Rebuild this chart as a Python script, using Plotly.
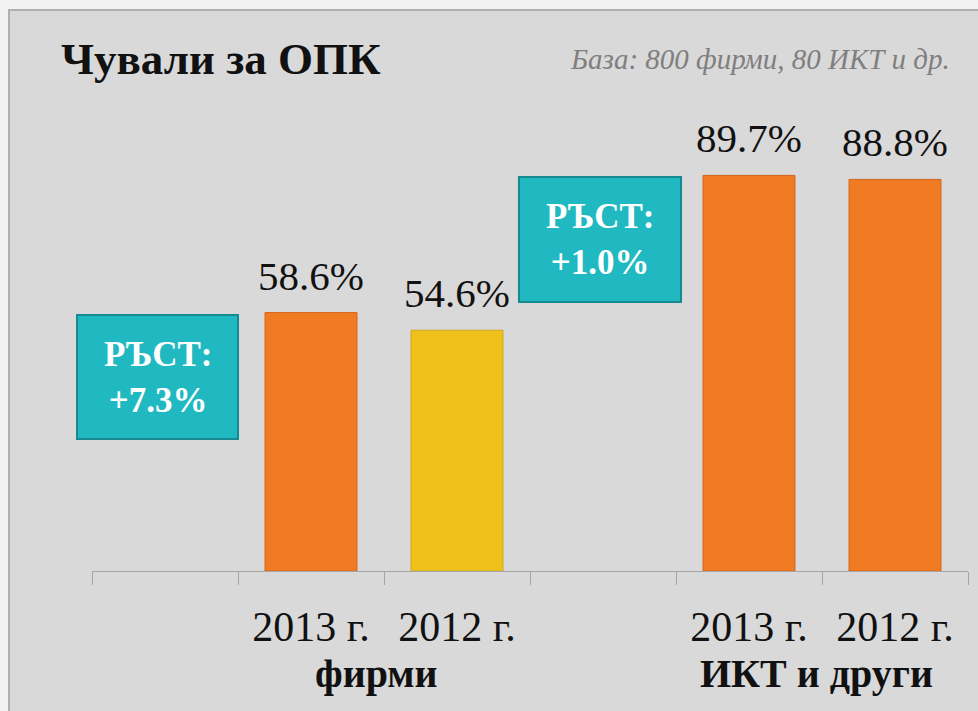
import plotly.graph_objects as go

# Chart data
positions = [1, 2, 4, 5]
years = ["2013 г.", "2012 г.", "2013 г.", "2012 г."]
values = [58.6, 54.6, 89.7, 88.8]
bar_colors = ["#F07B22", "#F0C11A", "#F07B22", "#F07B22"]
line_colors = ["#D4661A", "#D1A820", "#D4661A", "#D4661A"]
groups = ["фирми", "ИКТ и други"]
group_centers = [1.45, 4.46]
growth_labels = ["РЪСТ:<br>+7.3%", "РЪСТ:<br>+1.0%"]
boundaries = [-0.5, 0.5, 1.5, 2.5, 3.5, 4.5, 5.5]

SERIF = "Liberation Serif"

fig = go.Figure()
fig.add_trace(go.Bar(
    x=positions, y=values, width=0.63,
    marker=dict(color=bar_colors, line=dict(color=line_colors, width=1)),
    hoverinfo="skip",
))

# Value labels above the bars
for x, v in zip(positions, values):
    fig.add_annotation(x=x, y=v, xref="x", yref="y", text=f"{v:.1f}%",
                       showarrow=False, yanchor="bottom", yshift=12,
                       font=dict(family=SERIF, size=41, color="#111111"))

# Group labels below the year labels
for gx, g in zip(group_centers, groups):
    fig.add_annotation(x=gx, y=0, xref="x", yref="y", text=f"<b>{g}</b>",
                       showarrow=False, yanchor="top", yshift=-78,
                       font=dict(family=SERIF, size=40, color="#111111"))

# Growth boxes
boxes = [(-0.0171, 0.1667, 0.2993, 0.5805), (0.4874, 0.6724, 0.61, 0.8934)]
for (x0, x1, y0, y1), txt in zip(boxes, growth_labels):
    fig.add_shape(type="rect", xref="paper", yref="paper", x0=x0, x1=x1, y0=y0, y1=y1,
                  fillcolor="#20B9C1", line=dict(color="#168A90", width=2), layer="above")
    fig.add_annotation(x=(x0 + x1) / 2, y=(y0 + y1) / 2, xref="paper", yref="paper",
                       xanchor="center", yanchor="middle",
                       text=f"<b>{txt}</b>", showarrow=False, align="center",
                       font=dict(family=SERIF, size=35, color="white"))

# Panel background
fig.add_shape(type="rect", xref="paper", yref="paper", x0=-0.0947, x1=1.02, y0=-0.33, y1=1.2722,
              fillcolor="#D9D9D9", line=dict(color="#AFAFAF", width=2), layer="below")

# Title and base note
fig.add_annotation(x=-0.0375, y=1.16, xref="paper", yref="paper", text="<b>Чували за ОПК</b>",
                   showarrow=False, xanchor="left", yanchor="middle",
                   font=dict(family=SERIF, size=45, color="#111111"))
fig.add_annotation(x=0.982, y=1.16, xref="paper", yref="paper",
                   text="<i>База: 800 фирми, 80 ИКТ и др.</i>",
                   showarrow=False, xanchor="right", yanchor="middle",
                   font=dict(family=SERIF, size=29, color="#7F7F7F"))

fig.update_layout(
    width=978, height=711,
    margin=dict(l=92, r=10, t=130, b=140),
    paper_bgcolor="#F2F2F2", plot_bgcolor="rgba(0,0,0,0)",
    showlegend=False,
    xaxis=dict(range=[-0.5, 5.5], tickvals=positions, ticktext=years, ticks="",
               showgrid=False, zeroline=False, showline=True, linecolor="#A6A6A6", linewidth=1,
               ticklabelstandoff=19,
               tickfont=dict(family=SERIF, size=42, color="#111111"),
               minor=dict(tickvals=boundaries, ticks="outside", ticklen=13,
                          tickcolor="#A6A6A6", tickwidth=1, showgrid=False)),
    yaxis=dict(range=[0, 100], visible=False),
)

fig.write_html("out.html")
